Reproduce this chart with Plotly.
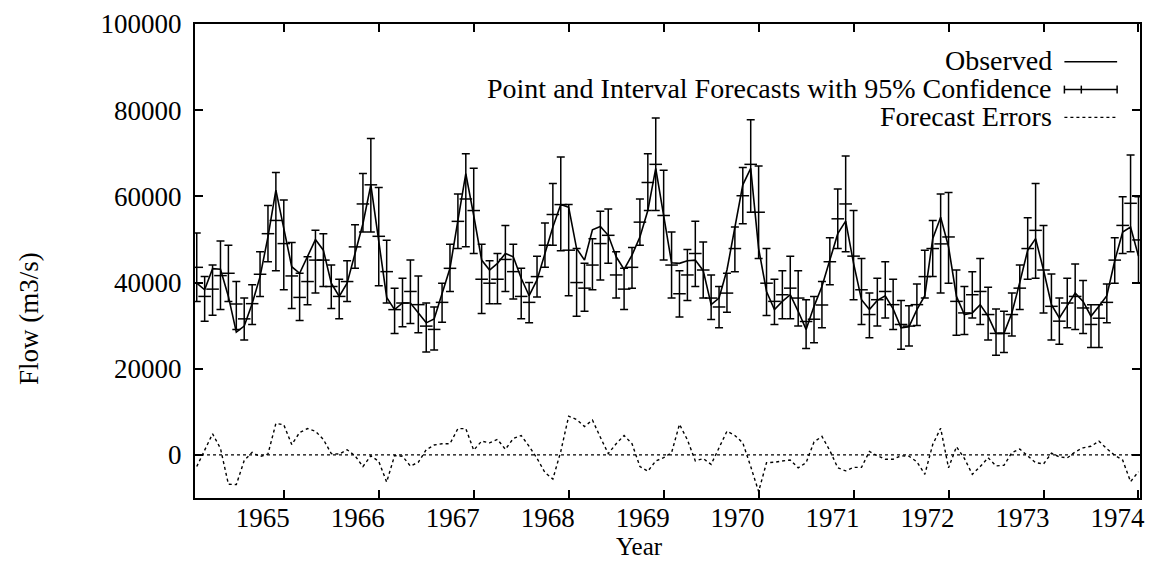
import plotly.graph_objects as go

# ---------------- data (monthly, Feb 1964 .. Jan 1974) ----------------
years = [1965, 1966, 1967, 1968, 1969, 1970, 1971, 1972, 1973, 1974]
year_labels = [str(y) for y in years]
y_ticks = [0, 20000, 40000, 60000, 80000, 100000]
y_labels = [str(v) for v in y_ticks]

observed = [39850, 38320, 43220, 43070, 36780, 28500, 29890, 35100, 41380, 50580,
            61460, 52870, 43680, 42150, 45980, 49960, 47510, 39850, 36780, 39850,
            46740, 53640, 62680, 49040, 36550, 33720, 35250, 35250, 32950, 30650,
            31570, 37550, 43300, 54410, 65290, 55560, 45210, 42910, 44450, 46740,
            45980, 41000, 36940, 40610, 46740, 52870, 58090, 57470, 47890, 45210,
            52260, 53030, 50960, 45980, 43070, 46360, 50580, 56710, 66510, 55170,
            44600, 44450, 45060, 45210, 42760, 34870, 36400, 42910, 52490, 62680,
            66510, 47890, 37930, 33720, 35630, 37170, 33330, 29120, 34480, 39080,
            45210, 51340, 54250, 44450, 36020, 33720, 35860, 36940, 33870, 29500,
            29730, 33720, 36940, 50190, 55170, 48280, 36780, 32570, 32950, 34870,
            32180, 28200, 28200, 32950, 40000, 47510, 50190, 42910, 34870, 31800,
            34640, 37550, 35630, 32180, 34480, 36940, 45060, 51730, 52870, 46130]

forecast = [43530, 36780, 38470, 41610, 42150, 35020, 31570, 35100, 41920, 51340,
            54410, 49040, 41530, 36550, 40230, 45210, 45210, 39080, 36780, 40230,
            48280, 58240, 62680, 50730, 42530, 33720, 35250, 37930, 34870, 29890,
            29120, 35400, 43300, 54200, 59390, 56710, 40770, 39850, 40770, 45360,
            42530, 36780, 35400, 41380, 48660, 55790, 58090, 47510, 40000, 38700,
            44060, 49040, 50960, 41760, 38470, 43530, 54020, 63220, 67430, 55560,
            44060, 37400, 41760, 46740, 42910, 36400, 34330, 37550, 47890, 60150,
            67430, 56320, 39850, 35630, 37170, 38700, 36400, 30960, 31490, 34790,
            44830, 54790, 58240, 46130, 38320, 32570, 36020, 37930, 34870, 30270,
            29890, 34870, 41380, 47890, 48970, 50580, 35630, 32950, 37170, 37930,
            32570, 28200, 28200, 32570, 38700, 47890, 52110, 42910, 34480, 31040,
            35250, 36780, 34100, 30270, 31720, 35400, 45210, 53260, 58390, 49890]

upper95 = [51500, 41380, 44060, 49660, 48660, 40230, 36400, 39460, 47130, 57860,
           65520, 59160, 49270, 42150, 45980, 52110, 51340, 44060, 40770, 45060,
           53410, 65290, 73410, 62070, 49810, 38700, 41000, 45210, 41530, 35250,
           34330, 39850, 48890, 60540, 69890, 66510, 48890, 45060, 46740, 53260,
           48890, 43300, 40000, 46130, 53790, 62990, 69120, 58090, 47890, 44450,
           50190, 56550, 57090, 47130, 43300, 48120, 59390, 69890, 78160, 66050,
           51720, 42760, 47660, 54250, 49430, 41760, 39080, 42150, 52870, 66670,
           77780, 67050, 47890, 40770, 42760, 46130, 42760, 36020, 36780, 40230,
           50420, 61690, 69350, 56710, 45590, 37550, 41000, 44830, 40770, 35860,
           34640, 39690, 47510, 54410, 60540, 60920, 42910, 39080, 42530, 45590,
           38930, 33870, 33330, 37550, 44060, 55020, 62990, 53260, 42000, 36400,
           41000, 44290, 40460, 34870, 34870, 39690, 50420, 59920, 69580, 59920]

lower95 = [35630, 31040, 32410, 33720, 35630, 29120, 26670, 30270, 36780, 44830,
           42760, 38320, 33950, 31190, 34870, 37550, 39080, 33950, 31570, 35630,
           43300, 51720, 51720, 39230, 35250, 28200, 29730, 30500, 28350, 23910,
           24370, 30810, 37930, 47890, 48280, 46740, 32800, 35100, 35100, 37930,
           36170, 31570, 30650, 36630, 43530, 48660, 47360, 36940, 32180, 33330,
           38320, 40610, 44450, 36400, 33720, 38700, 48660, 56710, 56710, 45210,
           36400, 32030, 35860, 39080, 36400, 31420, 29500, 33100, 42530, 53640,
           56320, 45590, 32340, 30270, 31570, 31570, 29890, 24670, 26050, 29500,
           39460, 47890, 47130, 36020, 30270, 27200, 29890, 31800, 29120, 24520,
           25290, 30040, 36400, 41380, 37550, 39850, 27740, 27970, 31800, 30270,
           26670, 23140, 23750, 27590, 33720, 40770, 41000, 32950, 26670, 25670,
           29500, 29120, 28200, 24900, 24900, 30650, 39850, 46740, 47130, 39850]

errors = [-2700, 1300, 4900, 1500, -6800, -6900, -1300, 600, -400, 200,
          7300, 7000, 2400, 5200, 6100, 5500, 3600, 300, 200, 1200,
          -200, -2700, -200, -1500, -6300, -150, -300, -2600, -1700, 1200,
          2300, 2600, 2600, 6100, 6100, 1100, 3200, 2800, 3600, 1300,
          3800, 4500, 2000, -800, -4100, -5600, 800, 9000, 8200, 6600,
          8100, 4100, 300, 2600, 4500, 2600, -2700, -3800, -1400, -650,
          500, 7100, 3500, -1400, -850, -2200, 1800, 5500, 4500, 2800,
          -2700, -8500, -1800, -1700, -1400, -1200, -3000, -1800, 3000, 4300,
          1000, -3000, -3700, -2900, -2900, 800, -200, -1000, -1000, -200,
          -300, -1600, -4500, 2400, 6200, -3000, 1900, -800, -4500, -2700,
          -650, -2550, -2400, 500, 1350, -300, -1800, -2100, 400, -450,
          -700, 700, 1650, 2000, 3200, 1450, -100, -1200, -6200, -3900]

months = [1964 + (k + 1) / 12 for k in range(len(observed))]

# ---------------- figure ----------------
FONT = "Liberation Serif"
FS_TICK = 27
FS_LEG = 28

fig = go.Figure()

fig.add_trace(go.Scatter(
    x=months, y=forecast, mode="markers",
    marker=dict(symbol="line-ew", size=9, color="black",
                line=dict(width=1.5, color="black")),
    error_y=dict(type="data", symmetric=False,
                 array=[h - f for h, f in zip(upper95, forecast)],
                 arrayminus=[f - l for f, l in zip(forecast, lower95)],
                 color="black", thickness=1.5, width=4),
    showlegend=False, hoverinfo="skip"))

fig.add_trace(go.Scatter(
    x=months, y=observed, mode="lines",
    line=dict(color="black", width=1.6), showlegend=False))

fig.add_trace(go.Scatter(
    x=months, y=errors, mode="lines",
    line=dict(color="black", width=1.4, dash="dot"), showlegend=False))

# dotted zero axis
fig.add_shape(type="line", xref="paper", x0=0, x1=1, yref="y", y0=0, y1=0,
              line=dict(color="black", width=1.3, dash="dot"))

axis_common = dict(showline=True, linecolor="black", linewidth=2, mirror="ticks",
                   ticks="inside", ticklen=8, tickwidth=1.5, tickcolor="black",
                   showgrid=False, zeroline=False,
                   tickfont=dict(family=FONT, size=FS_TICK, color="black"))

fig.update_xaxes(range=[1964.065, 1974.016], tickmode="array", tickvals=years,
                 ticktext=year_labels, ticklabelshift=-21, ticklabelstandoff=-5,
                 **axis_common)
fig.update_yaxes(range=[-10000, 100000], tickmode="array", tickvals=y_ticks,
                 ticktext=y_labels, ticklabelstandoff=6, **axis_common)

# ---- legend (gnuplot style: right-aligned text, sample on right) ----
def px_x(p):
    return (p - 195) / 950

def px_y(p):
    return (498 - p) / 477

legend_rows = [("Observed", 58), ("Point and Interval Forecasts with 95% Confidence", 86),
               ("Forecast Errors", 114)]
for text, py in legend_rows:
    fig.add_annotation(text=text, xref="paper", yref="paper", x=px_x(1059), y=px_y(py),
                       xanchor="right", yanchor="middle", showarrow=False,
                       font=dict(family=FONT, size=FS_LEG, color="black"))

x0s, x1s = px_x(1069), px_x(1122)
fig.add_shape(type="line", xref="paper", yref="paper", x0=x0s, x1=x1s,
              y0=px_y(59), y1=px_y(59), line=dict(color="black", width=1.5))
fig.add_shape(type="line", xref="paper", yref="paper", x0=x0s, x1=x1s,
              y0=px_y(87), y1=px_y(87), line=dict(color="black", width=1.5))
for xc in (1069, 1086, 1122):
    fig.add_shape(type="line", xref="paper", yref="paper", x0=px_x(xc), x1=px_x(xc),
                  y0=px_y(83), y1=px_y(91), line=dict(color="black", width=1.5))
fig.add_shape(type="line", xref="paper", yref="paper", x0=x0s, x1=x1s,
              y0=px_y(115), y1=px_y(115), line=dict(color="black", width=1.4, dash="dot"))

# axis titles
fig.add_annotation(text="Flow (m3/s)", xref="paper", yref="paper", x=px_x(28), y=px_y(317),
                   textangle=-90, showarrow=False, xanchor="center", yanchor="middle",
                   font=dict(family=FONT, size=27, color="black"))
fig.add_annotation(text="Year", xref="paper", yref="paper", x=px_x(642), y=px_y(561),
                   showarrow=False, xanchor="center", yanchor="bottom", borderpad=0,
                   font=dict(family=FONT, size=25, color="black"))

fig.update_layout(width=1154, height=562, margin=dict(l=195, r=9, t=21, b=64),
                  plot_bgcolor="white", paper_bgcolor="white", showlegend=False)

fig.write_html("out.html")
